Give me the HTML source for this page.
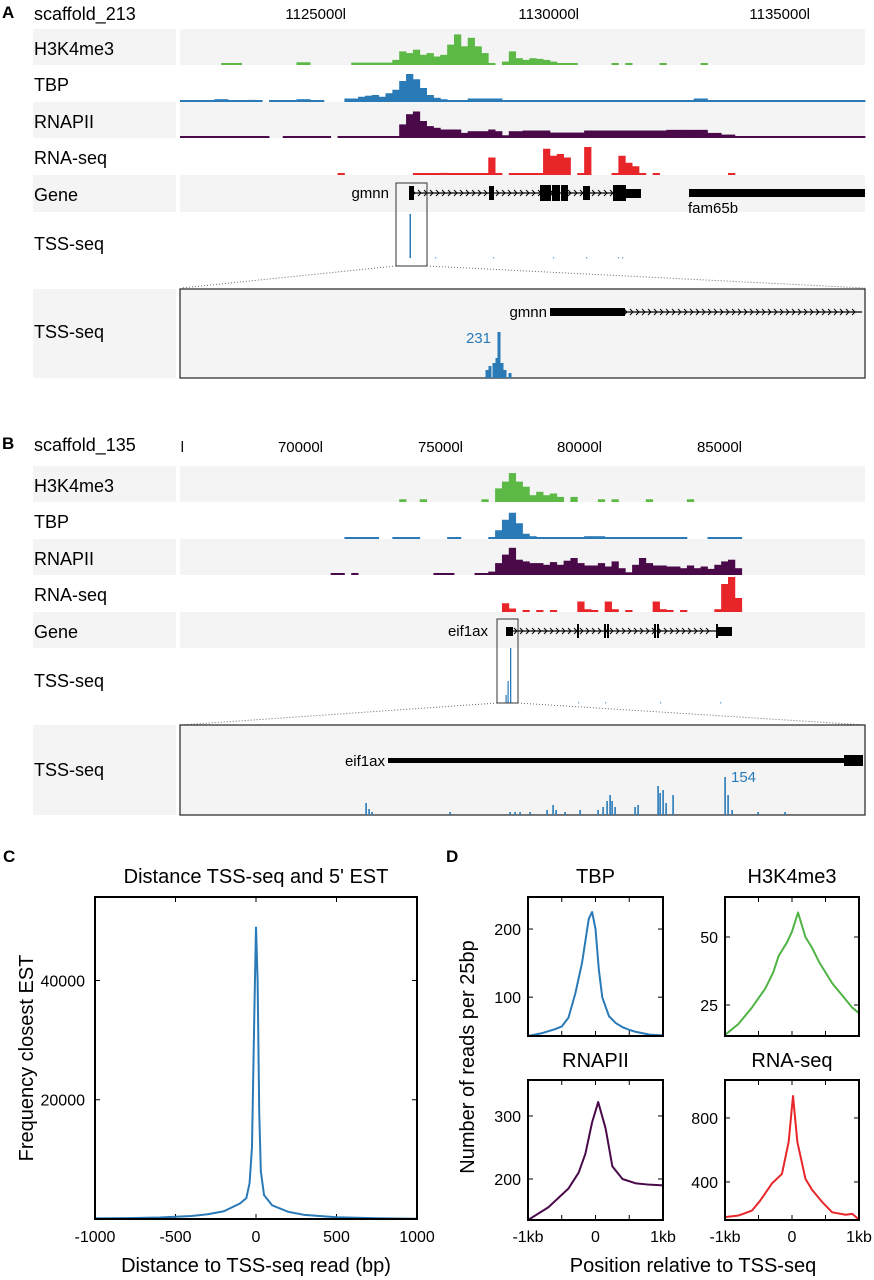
<!DOCTYPE html>
<html><head><meta charset="utf-8"><style>
body{margin:0;background:#fff;}
svg{display:block;font-family:"Liberation Sans",sans-serif;}
</style></head><body>
<svg id="fig" width="874" height="1280" viewBox="0 0 874 1280" xmlns="http://www.w3.org/2000/svg">
<g id="static"></g>
</svg>
<script>
// ---------- Track data (bins 0..99 across the browser window), segments [startBin,endBin,value%] ----------
const aH3 = [[6,8,5],[17,18,8],[25,30,7],[31,31,15],[32,32,40],[33,33,35],[34,34,45],[35,35,30],[36,36,35],[37,37,25],[38,38,30],[39,39,60],[40,40,90],[41,41,55],[42,42,80],[43,43,55],[44,44,35],[45,45,5],[47,47,10],[48,48,40],[49,49,20],[50,50,15],[51,51,20],[52,52,18],[53,53,15],[54,54,10],[55,57,5],[63,63,5],[65,65,5],[70,70,5],[76,76,5]];
const aTBP = [[0,11,3],[5,6,8],[10,10,6],[13,20,3],[17,18,8],[24,99,3],[24,25,10],[26,26,15],[27,27,18],[28,28,20],[29,29,15],[30,30,25],[31,31,35],[32,32,60],[33,33,80],[34,34,65],[35,35,40],[36,36,20],[37,37,12],[38,38,8],[39,41,5],[42,46,10],[55,56,5],[75,76,10]];
const aPol = [[0,12,3],[15,21,3],[23,31,3],[32,32,40],[33,33,70],[34,34,78],[35,35,50],[36,36,35],[37,37,30],[38,40,25],[41,41,15],[42,44,20],[45,45,25],[46,46,20],[47,47,8],[48,49,20],[50,53,22],[54,58,16],[59,70,22],[71,76,24],[77,78,15],[79,80,10],[81,85,5],[86,99,3]];
const aRNA = [[23,23,3],[34,41,3],[38,38,6],[42,46,3],[45,45,50],[48,56,3],[53,53,75],[54,54,55],[55,55,60],[56,56,50],[58,59,3],[59,59,80],[63,67,3],[64,64,55],[65,65,35],[66,66,25],[69,69,3],[80,80,3]];
const bH3 = [[32,32,8],[35,35,8],[44,44,8],[46,46,40],[47,47,60],[48,48,85],[49,49,60],[50,50,45],[51,51,20],[52,52,30],[53,53,20],[54,54,25],[55,55,15],[57,57,15],[61,61,8],[63,63,8],[68,68,8],[74,74,8]];
const bTBP = [[24,28,3],[31,34,3],[39,40,3],[45,45,5],[46,46,25],[47,47,55],[48,48,75],[49,49,45],[50,50,15],[51,51,8],[52,55,5],[56,66,5],[59,61,8],[67,73,3],[77,81,3]];
const bPol = [[22,23,3],[25,25,3],[37,39,3],[43,44,3],[45,45,10],[46,46,35],[47,47,60],[48,48,80],[49,49,45],[50,50,40],[51,52,35],[53,53,30],[54,54,38],[55,55,30],[56,56,42],[57,57,50],[58,58,35],[59,60,28],[61,61,35],[62,62,25],[63,63,40],[64,64,20],[65,65,8],[66,66,30],[67,67,50],[68,68,35],[69,70,28],[71,72,25],[73,73,20],[74,74,28],[75,75,20],[76,76,25],[77,77,18],[78,78,30],[79,79,40],[80,80,45],[81,81,20]];
const bRNA = [[47,47,25],[48,48,10],[50,50,3],[52,52,3],[54,54,3],[58,58,30],[59,59,8],[60,60,3],[62,62,30],[63,63,8],[65,65,3],[69,69,30],[70,70,8],[71,71,3],[73,73,3],[78,78,8],[79,79,80],[80,80,100],[81,81,40]];
// TSS-seq zoom bars: positions (px within window) and heights
const aZoomPos = [487,490,494,497,499,502,505,510];
const aZoomH = [8,12,15,20,46,15,8,5];
const bZoomPos = [366,369,372,450,510,515,520,530,547,553,556,565,580,598,603,607,610,612,615,635,638,658,660,663,666,673,725,728,732,758,785];
const bZoomH = [12,6,3,3,3,3,3,3,5,10,5,3,5,5,8,14,20,14,8,8,10,29,22,25,12,20,38,20,5,3,3];
// ---------- Panel C data ----------
const cX = [-1000,-800,-600,-400,-300,-200,-100,-60,-40,-25,-10,0,10,20,30,50,100,200,300,500,800,1000];
const cY = [100,150,250,500,800,1300,2600,3500,6000,12000,35000,49000,40000,18000,8000,4000,2300,1200,700,300,100,50];
const cXTicks = [-1000,-500,0,500,1000];
const cYTicks = [20000,40000];
// ---------- Panel D data ----------
const dTbpX = [-1000,-800,-600,-500,-400,-300,-200,-100,-50,0,50,100,200,300,400,500,600,700,800,1000];
const dTbpY = [43,47,53,57,70,105,150,215,225,200,140,100,72,62,56,52,49,47,45,44];
const dH3X = [-1000,-800,-600,-400,-280,-200,-75,0,90,200,300,400,600,800,900,1000];
const dH3Y = [14,18,24,31,37,43,48,52,59,50,46,41,33,27,24,22];
const dPolX = [-1000,-700,-400,-250,-150,-50,40,150,250,400,600,800,1000];
const dPolY = [135,155,185,210,240,290,322,280,220,200,193,191,190];
const dRnaX = [-1000,-800,-600,-480,-300,-150,-50,15,80,200,300,460,600,800,900,1000];
const dRnaY = [180,190,220,280,390,450,650,937,650,420,350,270,210,195,200,165];

const NS="http://www.w3.org/2000/svg";
const svg=document.getElementById('fig');
function mk(tag,attrs,parent){const e=document.createElementNS(NS,tag);for(const k in attrs)e.setAttribute(k,attrs[k]);(parent||svg).appendChild(e);return e;}
function txt(s,x,y,size,attrs){const t=mk('text',Object.assign({x:x,y:y,'font-size':size,fill:'#000'},attrs||{}));t.textContent=s;return t;}

const X0=180,X1=865,BW=(X1-X0)/100;
const GRAY='#f4f4f4';
function binX(i){return X0+i*BW;}

function drawTrack(segs,top,h,color,name){
  const vals=new Array(100).fill(0);
  segs.forEach(s=>{for(let i=s[0];i<=s[1];i++)vals[i]=s[2];});
  const g=mk('g',{});
  
  
  vals.forEach((v,i)=>{ if(v>0){ const hh=Math.max(2,v/100*(h-2)); const r=mk('rect',{x:binX(i),y:top+h-hh,width:BW+0.4,height:hh,fill:color},g);
    
     }});
}

function row(top,h,gray,label,labelY,name){
  if(gray){ const a=mk('rect',{x:33,y:top,width:143,height:h,fill:GRAY});  
    const b=mk('rect',{x:180,y:top,width:685,height:h,fill:GRAY});   }
  const t=txt(label,34,labelY,18);
  
  
}

function chevronLine(x1,x2,y,g){
  mk('line',{x1:x1,y1:y,x2:x2,y2:y,stroke:'#000','stroke-width':1.2},g);
  for(let x=x1+4;x<x2-2;x+=6){ mk('polyline',{points:`${x-2},${y-3} ${x+1},${y} ${x-2},${y+3}`,fill:'none',stroke:'#000','stroke-width':1},g); }
}

// ================= Panel A =================
{
  const L=txt('A',2,18,17,{'font-weight':'bold'});  
  const s=txt('scaffold_213',34,20,18);  
  const ticksA=['1125000l','1130000l','1135000l']; const tickPxA=[346,579,810];
  ticksA.forEach((t,i)=>{const e=txt(t,tickPxA[i],19,15,{'text-anchor':'end'});  });
  row(29,36,true,'H3K4me3',55,'a-h3k4me3'); row(65,37,false,'TBP',91,'a-tbp'); row(102,36,true,'RNAPII',128,'a-rnapii');
  row(138,37,false,'RNA-seq',164,'a-rnaseq'); row(175,37,true,'Gene',201,'a-gene'); row(212,75,false,'TSS-seq',250,'a-tss');
  drawTrack(aH3,29,36,'#5cb946','a-h3k4me3-track');
  drawTrack(aTBP,65,37,'#2a7ab8','a-tbp-track');
  drawTrack(aPol,102,36,'#4a0a4a','a-rnapii-track');
  drawTrack(aRNA,138,37,'#e8262a','a-rnaseq-track');
  // gene
  const g=mk('g',{});  
  chevronLine(410,626,193,g);
  [[409,414,186,14],[489,494,186,14],[540,551,185,16],[552,560,185,16],[561,568,185,16],[583,590,186,14],[613,626,185,16],[626,641,189,9]].forEach(r=>mk('rect',{x:r[0],y:r[2],width:r[1]-r[0],height:r[3],fill:'#000'},g));
  txt('gmnn',389,198,15,{'text-anchor':'end'});
  const f=mk('rect',{x:689,y:189,width:176,height:8,fill:'#000'});  
  txt('fam65b',688,213,15);
  // TSS main
  mk('rect',{x:409.5,y:214,width:1.5,height:44,fill:'#2a7ab8'});
  [435,493,553,586,618,622].forEach(x=>mk('rect',{x:x,y:257,width:1.2,height:1.5,fill:'#7aa9d0'}));
  const bx=mk('rect',{x:396,y:183,width:31,height:83,fill:'none',stroke:'#333','stroke-width':1});  
  mk('line',{x1:396,y1:266,x2:181,y2:288,stroke:'#666','stroke-dasharray':'1,2'});
  mk('line',{x1:427,y1:266,x2:865,y2:288,stroke:'#666','stroke-dasharray':'1,2'});
  // zoom row
  const zb=mk('rect',{x:33,y:289,width:143,height:89,fill:GRAY});  
  const zr=mk('rect',{x:180,y:289,width:685,height:89,fill:GRAY,stroke:'#222','stroke-width':1.2});  
  txt('TSS-seq',34,338,18);
  const zg=mk('g',{});  
  chevronLine(550,862,312,zg); mk('rect',{x:550,y:308,width:75,height:8,fill:'#000'},zg);
  txt('gmnn',547,317,15,{'text-anchor':'end'});
  aZoomPos.forEach((p,i)=>{const r=mk('rect',{x:p-1.5,y:378-aZoomH[i],width:3,height:aZoomH[i],fill:'#2a7ab8'});  });
  txt('231',491,343,15,{'text-anchor':'end',fill:'#2a7ab8'});
}
// ================= Panel B =================
{
  const L=txt('B',2,449,17,{'font-weight':'bold'});  
  const s=txt('scaffold_135',34,451,18);  
  const ticksB=['l','70000l','75000l','80000l','85000l']; const tickPxB=[184,323,463,602,742];
  ticksB.forEach((t,i)=>{const e=txt(t,tickPxB[i],452,15,{'text-anchor':'end'});  });
  row(466,36,true,'H3K4me3',492,'b-h3k4me3'); row(502,37,false,'TBP',528,'b-tbp'); row(539,36,true,'RNAPII',565,'b-rnapii');
  row(575,37,false,'RNA-seq',601,'b-rnaseq'); row(612,36,true,'Gene',638,'b-gene'); row(648,75,false,'TSS-seq',687,'b-tss');
  drawTrack(bH3,466,36,'#5cb946','b-h3k4me3-track');
  drawTrack(bTBP,502,37,'#2a7ab8','b-tbp-track');
  drawTrack(bPol,539,36,'#4a0a4a','b-rnapii-track');
  drawTrack(bRNA,575,37,'#e8262a','b-rnaseq-track');
  const g=mk('g',{});  
  chevronLine(506,716,631,g);
  [[506,513,627,9],[577,579,624,14],[604,606,624,14],[607,609,624,14],[654,656,624,14],[657,659,624,14],[716,718,624,14],[718,732,627,9]].forEach(r=>mk('rect',{x:r[0],y:r[2],width:r[1]-r[0],height:r[3],fill:'#000'},g));
  txt('eif1ax',488,636,15,{'text-anchor':'end'});
  [[510,55,1.3],[507.5,22,1.2],[505.5,8,1.2]].forEach(b=>mk('rect',{x:b[0],y:703-b[1],width:b[2],height:b[1],fill:'#2a7ab8'}));
  [578,605,660,720].forEach(x=>mk('rect',{x:x,y:702,width:1.2,height:1.5,fill:'#7aa9d0'}));
  const bx=mk('rect',{x:497,y:619,width:21,height:84,fill:'none',stroke:'#333','stroke-width':1});  
  mk('line',{x1:497,y1:703,x2:181,y2:725,stroke:'#666','stroke-dasharray':'1,2'});
  mk('line',{x1:518,y1:703,x2:865,y2:725,stroke:'#666','stroke-dasharray':'1,2'});
  const zb=mk('rect',{x:33,y:725,width:143,height:90,fill:GRAY});  
  const zr=mk('rect',{x:180,y:725,width:685,height:90,fill:GRAY,stroke:'#222','stroke-width':1.2});  
  txt('TSS-seq',34,776,18);
  const zg=mk('g',{});  
  mk('rect',{x:388,y:758,width:457,height:5,fill:'#000'},zg); mk('rect',{x:844,y:755,width:19,height:11,fill:'#000'},zg);
  txt('eif1ax',385,766,15,{'text-anchor':'end'});
  bZoomPos.forEach((p,i)=>{const r=mk('rect',{x:p-0.7,y:815-bZoomH[i],width:1.6,height:bZoomH[i],fill:'#2a7ab8'});  });
  txt('154',731,782,15,{fill:'#2a7ab8'});
}
// ================= Panel C =================
{
  const L=txt('C',3,862,17,{'font-weight':'bold'});  
  const bx={l:95,r:417,t:897,b:1219}; const xmin=-1000,xmax=1000,ymin=0,ymax=54000;
  const xs=v=>bx.l+(v-xmin)/(xmax-xmin)*(bx.r-bx.l); const ys=v=>bx.b-(v-ymin)/(ymax-ymin)*(bx.b-bx.t);
  const t=txt('Distance TSS-seq and 5\' EST',256,883,20,{'text-anchor':'middle'});  
  cXTicks.forEach(v=>{mk('line',{x1:xs(v),y1:bx.b,x2:xs(v),y2:bx.b-5,stroke:'#000'});mk('line',{x1:xs(v),y1:bx.t,x2:xs(v),y2:bx.t+5,stroke:'#000'});
    const e=txt(String(v),xs(v),1242,16,{'text-anchor':'middle'});  });
  cYTicks.forEach(v=>{mk('line',{x1:bx.l,y1:ys(v),x2:bx.l+5,y2:ys(v),stroke:'#000'});mk('line',{x1:bx.r,y1:ys(v),x2:bx.r-5,y2:ys(v),stroke:'#000'});
    const e=txt(String(v),85,ys(v)+6,16,{'text-anchor':'end'});  });
  const p=mk('polyline',{points:cX.map((x,i)=>xs(x)+','+ys(cY[i])).join(' '),fill:'none',stroke:'#2a7ab8','stroke-width':2});  
  const f=mk('rect',{x:bx.l,y:bx.t,width:bx.r-bx.l,height:bx.b-bx.t,fill:'none',stroke:'#000','stroke-width':2});  
  const yt=txt('Frequency closest EST',0,0,20,{'text-anchor':'middle',transform:'translate(33,1058) rotate(-90)'});  
  const xt=txt('Distance to TSS-seq read (bp)',256,1272,20,{'text-anchor':'middle'});  
}
// ================= Panel D =================
function smallPlot(name,bx,ymin,ymax,yt,X,Y,color,title,titleY,showX){
  const xs=v=>bx.l+(v+1000)/2000*(bx.r-bx.l); const ys=v=>bx.b-(v-ymin)/(ymax-ymin)*(bx.b-bx.t);
  const t=txt(title,(bx.l+bx.r)/2,titleY,20,{'text-anchor':'middle'});  
  [-1000,-500,0,500,1000].forEach(v=>{mk('line',{x1:xs(v),y1:bx.b,x2:xs(v),y2:bx.b-5,stroke:'#000'});mk('line',{x1:xs(v),y1:bx.t,x2:xs(v),y2:bx.t+5,stroke:'#000'});});
  if(showX){[['-1kb',-1000],['0',0],['1kb',1000]].forEach(a=>{const e=txt(a[0],xs(a[1]),1242,16,{'text-anchor':'middle'});  });}
  yt.forEach(v=>{mk('line',{x1:bx.l,y1:ys(v),x2:bx.l+5,y2:ys(v),stroke:'#000'});mk('line',{x1:bx.r,y1:ys(v),x2:bx.r-5,y2:ys(v),stroke:'#000'});
    const e=txt(String(v),bx.l-7,ys(v)+6,16,{'text-anchor':'end'});  });
  const cp=mk('clipPath',{id:'clip-'+name}); mk('rect',{x:bx.l,y:bx.t,width:bx.r-bx.l,height:bx.b-bx.t},cp);
  const p=mk('polyline',{points:X.map((x,i)=>xs(x)+','+ys(Y[i])).join(' '),fill:'none',stroke:color,'stroke-width':2,'stroke-linejoin':'round','clip-path':'url(#clip-'+name+')'});
  
  
  const f=mk('rect',{x:bx.l,y:bx.t,width:bx.r-bx.l,height:bx.b-bx.t,fill:'none',stroke:'#000','stroke-width':2});  
}
{
  const L=txt('D',446,862,17,{'font-weight':'bold'});  
  smallPlot('d-tbp',{l:528,r:663,t:897,b:1036},43,247,[100,200],dTbpX,dTbpY,'#2a7ab8','TBP',883,false);
  smallPlot('d-h3k4me3',{l:725,r:859,t:897,b:1036},13.6,64.7,[25,50],dH3X,dH3Y,'#4fb443','H3K4me3',883,false);
  smallPlot('d-rnapii',{l:528,r:663,t:1080,b:1220},135,357,[200,300],dPolX,dPolY,'#4a0a4a','RNAPII',1067,true);
  smallPlot('d-rnaseq',{l:725,r:859,t:1080,b:1220},162,1037,[400,800],dRnaX,dRnaY,'#e8262a','RNA-seq',1067,true);
  const yt=txt('Number of reads per 25bp',0,0,20,{'text-anchor':'middle',transform:'translate(474,1057) rotate(-90)'});  
  const xt=txt('Position relative to TSS-seq',693,1272,20,{'text-anchor':'middle'});  
}
</script>
</body></html>
